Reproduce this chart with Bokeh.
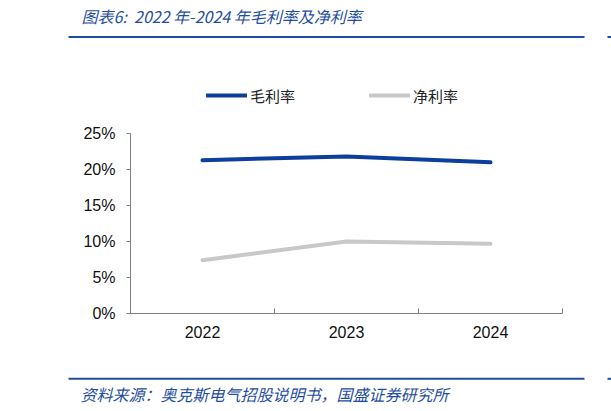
from bokeh.plotting import figure
from bokeh.models import (Range1d, FixedTicker, Label, BoxAnnotation, Legend,
                          LegendItem, PrintfTickFormatter)
from bokeh.embed import file_html
from bokeh.resources import INLINE

# ---- data ----
years = ["2022", "2023", "2024"]
gross_margin = [21.3, 21.8, 21.0]   # 毛利率 (%)
net_margin = [7.4, 10.0, 9.7]       # 净利率 (%)
y_ticks = [0, 5, 10, 15, 20, 25]

title_text = "图表6:\u00a0\u00a02022 年-2024 年毛利率及净利率"
source_text = "资料来源：奥克斯电气招股说明书，国盛证券研究所"

BLUE = "#0C3F9B"
GRAY = "#C8C8C8"
HEAD = "#1F4EA0"
AXIS = "#808080"

W, H = 611, 411
# plot area in pixels (canvas coords, origin top-left)
PL, PR, PT, PB = 130, 562, 133, 313

n = len(years)
x_pos = [i + 0.5 for i in range(n)]
y0, y1 = y_ticks[0], y_ticks[-1]
kx = (PR - PL) / n
ky = (PB - PT) / (y1 - y0)

p = figure(width=W, height=H,
           x_range=Range1d(0 - PL / kx, n + (W - PR) / kx),
           y_range=Range1d(y0 - (H - PB) / ky, y1 + PT / ky),
           output_backend="svg", toolbar_location=None,
           min_border=0, min_border_left=0, min_border_right=0,
           min_border_top=0, min_border_bottom=0)
p.xgrid.visible = False
p.ygrid.visible = False
p.outline_line_color = None
p.background_fill_color = "white"
p.border_fill_color = "white"

# x axis: labels at category centres, ticks at category boundaries
xa = p.xaxis[0]
xa.fixed_location = y0
xa.bounds = (0, n)
xa.ticker = FixedTicker(ticks=x_pos, minor_ticks=list(range(n + 1)))
xa.major_label_overrides = {x: y for x, y in zip(x_pos, years)}
xa.major_tick_line_color = None
xa.major_tick_in = 0
xa.major_tick_out = 0
xa.minor_tick_in = 5
xa.minor_tick_out = 0
xa.minor_tick_line_color = AXIS
xa.axis_line_color = AXIS
xa.major_label_standoff = 12
xa.major_label_text_font = "Liberation Sans"
xa.major_label_text_font_size = "16px"
xa.major_label_text_color = "#111111"

ya = p.yaxis[0]
ya.fixed_location = 0
ya.bounds = (y0, y1)
ya.ticker = FixedTicker(ticks=y_ticks)
ya.formatter = PrintfTickFormatter(format="%d%%")
ya.major_tick_in = 0
ya.major_tick_out = 4
ya.minor_tick_line_color = None
ya.major_tick_line_color = AXIS
ya.axis_line_color = AXIS
ya.major_label_standoff = 11
ya.major_label_text_font = "Liberation Sans"
ya.major_label_text_font_size = "16px"
ya.major_label_text_color = "#111111"

r1 = p.line(x_pos, gross_margin, line_width=4, line_color=BLUE, line_cap="round")
r2 = p.line(x_pos, net_margin, line_width=4, line_color=GRAY, line_cap="round")

legend = Legend(items=[LegendItem(label="毛利率", renderers=[r1]),
                       LegendItem(label="净利率", renderers=[r2])],
                orientation="horizontal", location=(206, H - 95.5 - 10),
                glyph_width=41, glyph_height=20, label_standoff=3,
                spacing=74, padding=0, margin=0,
                border_line_color=None, background_fill_alpha=0,
                label_text_font="Noto Sans CJK SC",
                label_text_font_size="15px", label_text_color="#222222")
p.add_layout(legend)


def rule(x_left, x_right, y_mid, thick=2):
    return BoxAnnotation(left=x_left, right=x_right,
                         top=H - y_mid + thick / 2, bottom=H - y_mid - thick / 2,
                         left_units="screen", right_units="screen",
                         top_units="screen", bottom_units="screen",
                         fill_color=HEAD, fill_alpha=1, line_color=None)


# header / footer (screen units, y measured from the bottom)
p.add_layout(Label(x=81, y=H - 15.5, x_units="screen", y_units="screen",
                   text=title_text, text_font="Noto Sans CJK SC",
                   text_font_style="italic", text_font_size="16px",
                   text_color=HEAD, text_baseline="middle"))
p.add_layout(rule(68, 584, 36.5))
p.add_layout(rule(607, 611, 36.5))
p.add_layout(rule(68, 584, 378.3))
p.add_layout(rule(607, 611, 378.3))
p.add_layout(Label(x=80, y=H - 393, x_units="screen", y_units="screen",
                   text=source_text, text_font="Noto Sans CJK SC",
                   text_font_style="italic", text_font_size="16px",
                   text_color=HEAD, text_baseline="middle"))

open("out.html", "w").write(file_html(p, INLINE))
